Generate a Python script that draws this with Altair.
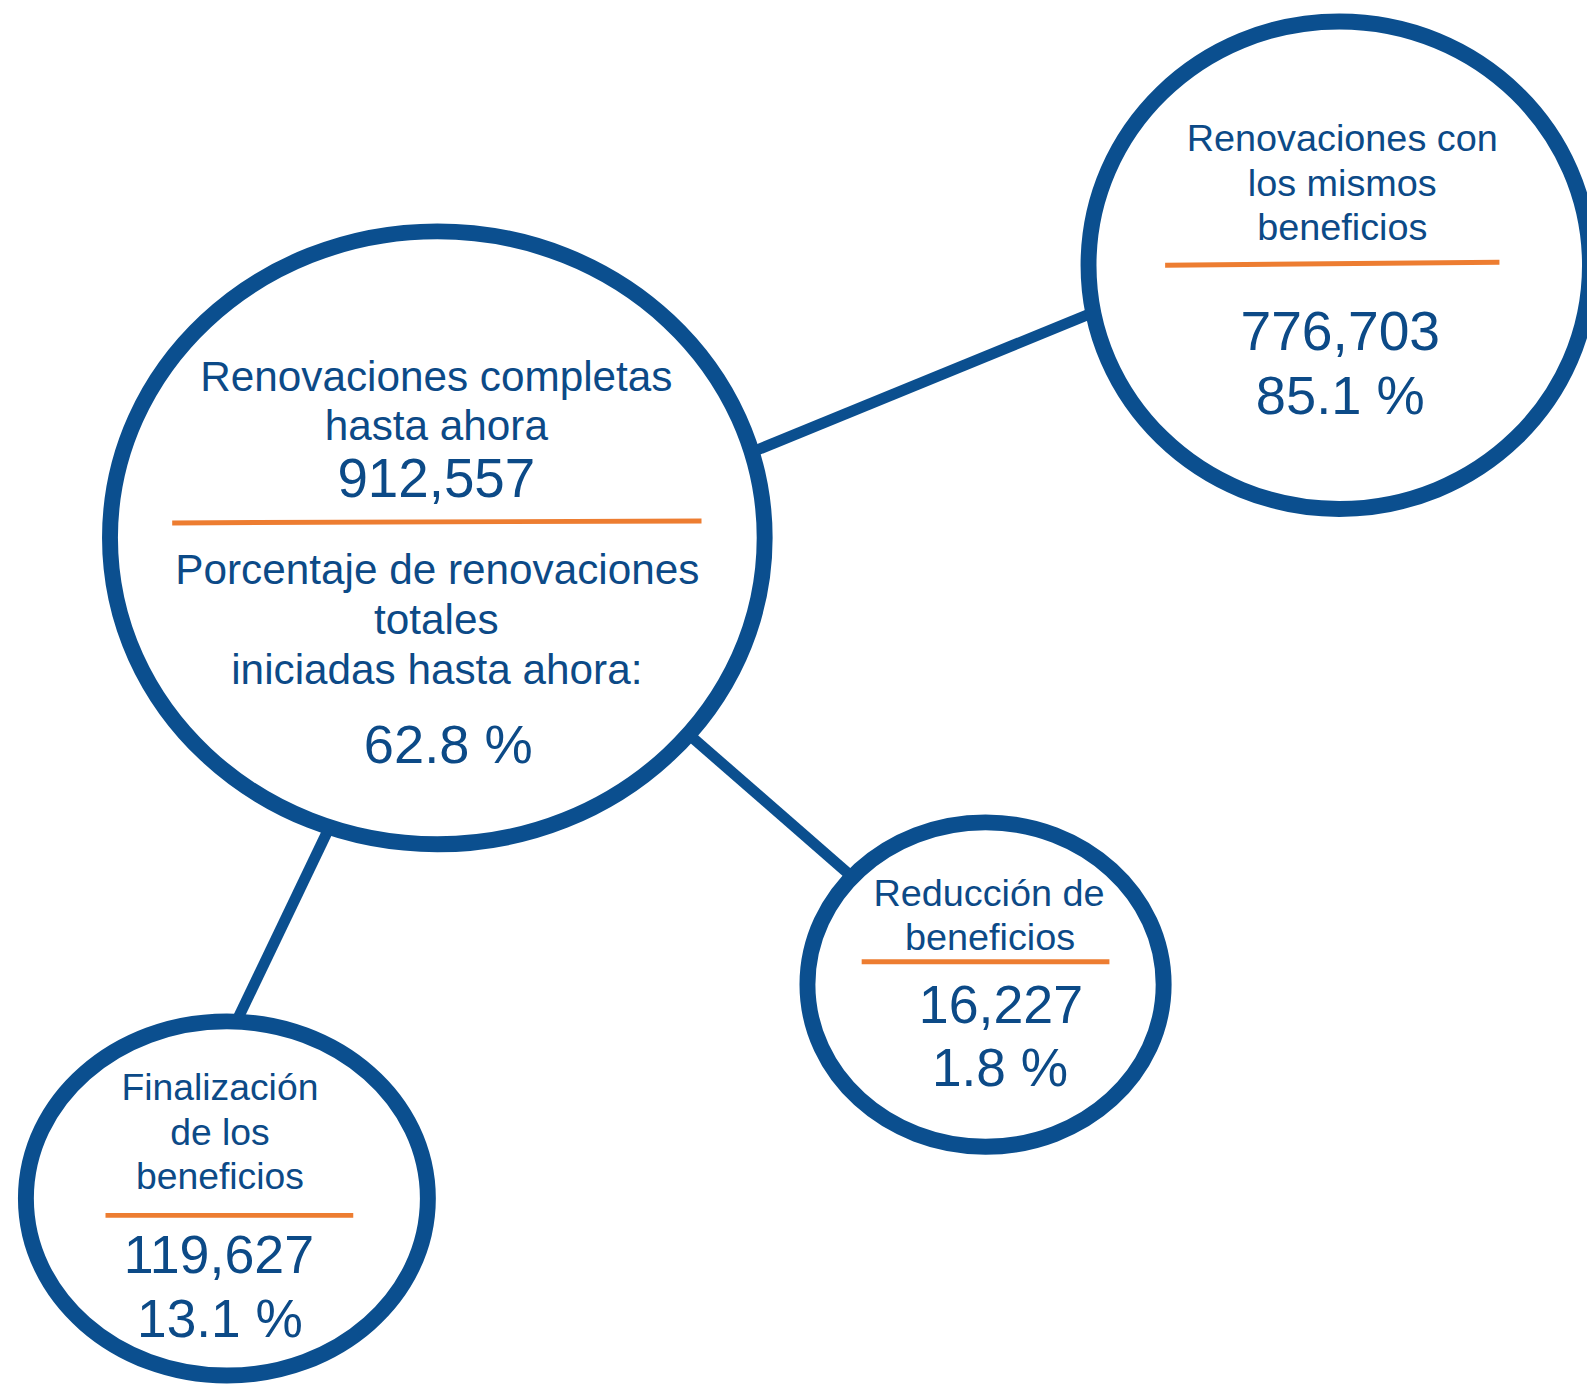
import altair as alt
import pandas as pd

# ---------------- content ----------------
node_names = ["completas", "mismos", "reduccion", "finalizacion"]

big_title = ["Renovaciones completas", "hasta ahora"]
big_total = "912,557"
big_sub = ["Porcentaje de renovaciones", "totales", "iniciadas hasta ahora:"]
big_pct = "62.8 %"

same_title = ["Renovaciones con", "los mismos", "beneficios"]
same_total = "776,703"
same_pct = "85.1 %"

red_title = ["Reducción de", "beneficios"]
red_total = "16,227"
red_pct = "1.8 %"

fin_title = ["Finalización", "de los", "beneficios"]
fin_total = "119,627"
fin_pct = "13.1 %"

# ---------------- layout (pixel space of the diagram) ----------------
node_cx = [439.5, 1346, 990.5, 228]
node_cy = [537, 263, 986, 1201]
node_rx = [329, 252, 179, 202]
node_ry = [308, 245, 163, 178]

conn_x1 = [742, 680, 336.3]
conn_y1 = [456.5, 724, 817]
conn_x2 = [1108.5, 867, 232]
conn_y2 = [306.5, 887, 1034.8]

div_x1 = [173, 1171, 866, 106]
div_y1 = [522, 263, 963, 1218]
div_x2 = [705, 1507, 1115, 355]
div_y2 = [520, 260, 963, 1218]

label_text = big_title + big_sub + same_title + red_title + fin_title
label_x = [438.5, 438.5, 439.5, 438.5, 439, 1349, 1349, 1349, 994, 995, 221, 221, 221]
label_y = [389.5, 438.5, 583.5, 633.5, 684, 148, 193.3, 237.7, 907.3, 951.7, 1101.7, 1147.3, 1191.7]
label_size = [42.5, 42.5, 42.5, 42.5, 42.5, 38, 38, 38, 38, 38, 37.5, 37.5, 37.5]

num_text = [big_total, big_pct, same_total, same_pct, red_total, red_pct, fin_total, fin_pct]
num_x = [438.5, 450.5, 1347, 1347, 1006, 1005, 220, 221]
num_y = [496, 763, 348.3, 412.3, 1025, 1088, 1276, 1340]
num_size = [55, 54.5, 55.5, 54.5, 54, 53.5, 54, 53.5]

BLUE = "#0B4F8F"
TEXT = "#0C4A87"
ORANGE = "#ED7D31"
FONT = "Liberation Sans"

W, H = 1587, 1383
xs = alt.Scale(domain=[8, 8 + W], nice=False, zero=False)
ys = alt.Scale(domain=[8, 8 + H], nice=False, zero=False, reverse=True)

nodes = pd.DataFrame({
    "name": node_names,
    "cx": node_cx,
    "cy": node_cy,
    "shape": [f"M -1 0 A 1 {ry / rx:.4f} 0 1 1 1 0 A 1 {ry / rx:.4f} 0 1 1 -1 0 Z"
              for rx, ry in zip(node_rx, node_ry)],
    "size": [(2 * rx) ** 2 for rx in node_rx],
})
conns = pd.DataFrame({"x1": conn_x1, "y1": conn_y1, "x2": conn_x2, "y2": conn_y2})
divs = pd.DataFrame({"x1": div_x1, "y1": div_y1, "x2": div_x2, "y2": div_y2})
labels = pd.DataFrame({"t": label_text, "x": label_x, "y": label_y, "s": label_size})
nums = pd.DataFrame({"t": num_text, "x": num_x, "y": num_y, "s": num_size})

connectors = alt.Chart(conns).mark_rule(color=BLUE, strokeWidth=11, strokeCap="butt").encode(
    x=alt.X("x1:Q", scale=xs, axis=None),
    y=alt.Y("y1:Q", scale=ys, axis=None),
    x2="x2:Q",
    y2="y2:Q",
)

circles = alt.Chart(nodes).mark_point(
    filled=True, fill="white", stroke=BLUE, strokeWidth=16, opacity=1, fillOpacity=1
).encode(
    x=alt.X("cx:Q", scale=xs, axis=None),
    y=alt.Y("cy:Q", scale=ys, axis=None),
    shape=alt.Shape("shape:N", scale=None),
    size=alt.Size("size:Q", scale=None),
)

dividers = alt.Chart(divs).mark_rule(color=ORANGE, strokeWidth=5, strokeCap="butt").encode(
    x=alt.X("x1:Q", scale=xs, axis=None),
    y=alt.Y("y1:Q", scale=ys, axis=None),
    x2="x2:Q",
    y2="y2:Q",
)

label_layer = alt.Chart(labels).mark_text(
    font=FONT, color=TEXT, align="center", baseline="alphabetic"
).encode(
    x=alt.X("x:Q", scale=xs, axis=None),
    y=alt.Y("y:Q", scale=ys, axis=None),
    text="t:N",
    size=alt.Size("s:Q", scale=None),
)

num_layer = alt.Chart(nums).mark_text(
    font=FONT, color=TEXT, align="center", baseline="alphabetic"
).encode(
    x=alt.X("x:Q", scale=xs, axis=None),
    y=alt.Y("y:Q", scale=ys, axis=None),
    text="t:N",
    size=alt.Size("s:Q", scale=None),
)

chart = alt.layer(connectors, circles, dividers, label_layer, num_layer).properties(
    width=W, height=H, padding=0, autosize=alt.AutoSizeParams(type="none"),
    background="white",
).configure_view(strokeWidth=0)

chart.save("out.html", embed_options={"renderer": "svg", "actions": False})
